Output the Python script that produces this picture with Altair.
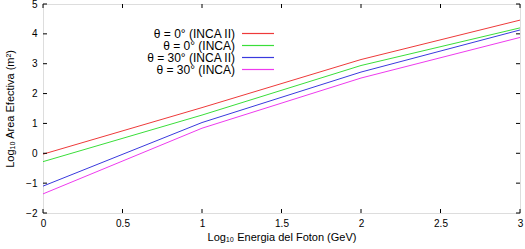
import altair as alt
import pandas as pd

energy = [0, 1, 2, 3]
series = ["θ = 0° (INCA II)", "θ = 0° (INCA)", "θ = 30° (INCA II)", "θ = 30° (INCA)"]
red = [-0.03, 1.53, 3.14, 4.46]
green = [-0.28, 1.28, 2.94, 4.20]
blue = [-1.10, 1.03, 2.72, 4.13]
magenta = [-1.36, 0.84, 2.52, 3.88]
colors = ["#ee3a3a", "#3ade3a", "#3a3ade", "#ee3aee"]
x_ticks = [0, 0.5, 1, 1.5, 2, 2.5, 3]
y_ticks = [-2, -1, 0, 1, 2, 3, 4, 5]

rows = []
for name, vals in zip(series, [red, green, blue, magenta]):
    for e, v in zip(energy, vals):
        rows.append({"serie": name, "x": e, "y": v})
df = pd.DataFrame(rows)

W, H = 477, 209
FONT = "Liberation Sans"

xs = alt.Scale(domain=[0, 3], nice=False, zero=False)
ys = alt.Scale(domain=[-2, 5], nice=False, zero=False)
cs = alt.Scale(domain=series, range=colors)

xa = alt.Axis(title="Log₁₀ Energia del Foton (GeV)", values=x_ticks,
              format="~g", labelOverlap=False,
              ticks=False, domain=False, grid=False, labelPadding=5,
              titlePadding=3, labelFlush=False, titleFontWeight="normal")
ya = alt.Axis(title="Log₁₀ Area Efectiva (m²)", values=y_ticks,
              format="~g", labelOverlap=False,
              ticks=False, domain=False, grid=False, labelPadding=6,
              titlePadding=10, labelFlush=False, titleFontWeight="normal")

lines = alt.Chart(df).mark_line(strokeWidth=1, clip=True).encode(
    x=alt.X("x:Q", scale=xs, axis=xa),
    y=alt.Y("y:Q", scale=ys, axis=ya),
    color=alt.Color("serie:N", scale=cs, legend=None),
    detail="serie:N",
)

xt = pd.DataFrame({"t": x_ticks})
yt = pd.DataFrame({"t": y_ticks})
tick_b = alt.Chart(xt).mark_rule(color="black", strokeWidth=1).encode(
    x=alt.X("t:Q", scale=xs, axis=xa), y=alt.value(H), y2=alt.value(H - 4))
tick_t = alt.Chart(xt).mark_rule(color="black", strokeWidth=1).encode(
    x=alt.X("t:Q", scale=xs, axis=xa), y=alt.value(0), y2=alt.value(4))
tick_l = alt.Chart(yt).mark_rule(color="black", strokeWidth=1).encode(
    y=alt.Y("t:Q", scale=ys, axis=ya), x=alt.value(0), x2=alt.value(4))
tick_r = alt.Chart(yt).mark_rule(color="black", strokeWidth=1).encode(
    y=alt.Y("t:Q", scale=ys, axis=ya), x=alt.value(W), x2=alt.value(W - 4))

leg = pd.DataFrame({"serie": series, "col": colors})
lys = alt.Scale(type="point", domain=series, range=[29.5, 65.5], padding=0)
leg_text = alt.Chart(leg).mark_text(align="right", baseline="middle", font=FONT,
                                    fontSize=12, color="black").encode(
    x=alt.value(192), y=alt.Y("serie:N", scale=lys, axis=None), text="serie:N")
leg_line = alt.Chart(leg).mark_rule(strokeWidth=1.2).encode(
    x=alt.value(199), x2=alt.value(231), y=alt.Y("serie:N", scale=lys, axis=None),
    stroke=alt.Stroke("col:N", scale=None, legend=None))

main = alt.layer(lines, tick_b, tick_t, tick_l, tick_r)
legend = alt.layer(leg_text, leg_line)

chart = alt.layer(main, legend).resolve_scale(y="independent").properties(
    width=W, height=H,
    autosize=alt.AutoSizeParams(type="none"),
    padding={"left": 43, "top": 4, "right": 5, "bottom": 36},
).configure_view(stroke="black", strokeWidth=1).configure_axis(
    labelFont=FONT, titleFont=FONT, labelFontSize=12, titleFontSize=12,
    labelColor="black", titleColor="black",
).configure(background="white")

chart.save("out.html", embed_options={"renderer": "svg", "actions": False})
